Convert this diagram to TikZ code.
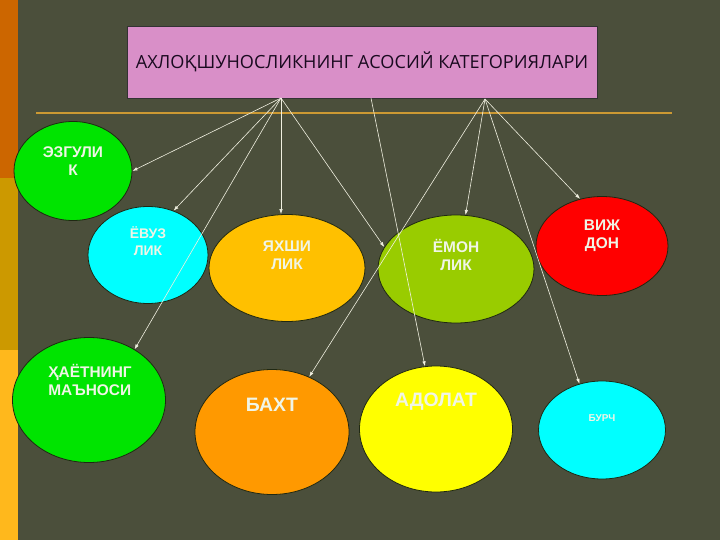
\documentclass[tikz,border=0pt]{standalone}
\usepackage{fontspec}
\setmainfont{Liberation Sans}
\newfontfamily\ttlfont{Open Sans}
\usetikzlibrary{shapes.geometric,arrows.meta}
\definecolor{bgc}{HTML}{4B4F3B}
\definecolor{stra}{HTML}{CC6600}
\definecolor{strb}{HTML}{CC9900}
\definecolor{strc}{HTML}{FFB81C}
\definecolor{rulec}{HTML}{CC9933}
\definecolor{ttlc}{HTML}{D98FC8}
\definecolor{bordc}{HTML}{1F2812}
\definecolor{txtc}{HTML}{F0F5E6}
\definecolor{arrc}{HTML}{F0F0E0}
\definecolor{grnc}{HTML}{00E400}
\definecolor{cync}{HTML}{00FFFF}
\definecolor{gldc}{HTML}{FFC000}
\definecolor{limc}{HTML}{99CC00}
\definecolor{redc}{HTML}{FF0000}
\definecolor{orgc}{HTML}{FF9900}
\definecolor{ylwc}{HTML}{FFFF00}
\tikzset{
    cat/.style={ellipse, draw=bordc, line width=0.8bp, inner sep=0pt},
    txt/.style={text=txtc, font=\bfseries\fontsize{15.5}{18}\selectfont, align=center},
    big/.style={font=\bfseries\fontsize{19.5}{22}\selectfont},
    arr/.style={draw=arrc, line width=0.6bp, -{Latex[length=5bp,width=3.5bp]}}
}
\begin{document}
\begin{tikzpicture}[x=1bp,y=-1bp]
    \useasboundingbox (0,0) rectangle (720,540);
    \fill[bgc] (0,0) rectangle (720,540);
    \fill[stra] (0,0) rectangle (18,178);
    \fill[strb] (0,178) rectangle (18,350);
    \fill[strc] (0,350) rectangle (18,540);
    \draw[rulec, line width=1.5bp] (36,113) -- (672,113);
    \draw (362,62) node[draw=black!80, fill=ttlc, minimum width=470bp, minimum height=72bp](ttl){
        \ttlfont\fontsize{18.2}{21}\selectfont\color[HTML]{1A0A20}АХЛОҚШУНОСЛИКНИНГ АСОСИЙ КАТЕГОРИЯЛАРИ
    };
    \coordinate (s1) at (281,98);
    \coordinate (s2) at (485,99);
    \coordinate (s3) at (371,98);
    % upper row
    \draw (73,171) node[cat, fill=grnc, minimum width=118bp, minimum height=99bp,
        label={[txt,yshift=10bp]center:{ЭЗГУЛИ\\К}}](ezg){};
    \draw (148,255) node[cat, fill=cync, minimum width=120bp, minimum height=97bp,
        label={[txt,yshift=14bp,font=\bfseries\fontsize{14}{17}\selectfont]center:{ЁВУЗ\\ЛИК}}](evz){};
    \draw (287,268) node[cat, fill=gldc, minimum width=156bp, minimum height=107bp,
        label={[txt,yshift=13bp]center:{ЯХШИ\\ЛИК}}](yax){};
    \draw (456,269) node[cat, fill=limc, minimum width=156bp, minimum height=108bp,
        label={[txt,yshift=14bp]center:{ЁМОН\\ЛИК}}](emn){};
    \draw (602,246) node[cat, fill=redc, minimum width=132bp, minimum height=99bp,
        label={[txt,yshift=10bp]center:{ВИЖ\\ДОН}}](vij){};
    % lower row
    \draw (89,400) node[cat, fill=grnc, minimum width=153bp, minimum height=125bp,
        label={[txt,align=left,yshift=20bp,xshift=1bp]center:{ҲАЁТНИНГ\\МАЪНОСИ}}](hay){};
    \draw (272,432) node[cat, fill=orgc, minimum width=154bp, minimum height=125bp,
        label={[txt,big,yshift=27bp]center:БАХТ}](bax){};
    \draw (436,429) node[cat, fill=ylwc, minimum width=153bp, minimum height=126bp,
        label={[txt,big,yshift=27bp]center:АДОЛАТ}](ado){};
    \draw (602,430) node[cat, fill=cync, minimum width=127bp, minimum height=98bp,
        label={[txt,yshift=12bp,font=\bfseries\fontsize{10}{12}\selectfont]center:БУРЧ}](bur){};
    % arrows
    \draw[arr] (s1) -- (ezg.east);
    \draw[arr] (s1) -- (evz.60);
    \draw[arr] (s1) -- (s1 |- yax.north);
    \draw[arr] (s1) -- (emn.163);
    \draw[arr] (s1) -- (hay.48);
    \draw[arr] (s3) -- (ado.100);
    \draw[arr] (s2) -- (emn.80);
    \draw[arr] (s2) -- (vij.115);
    \draw[arr] (s2) -- (bax.56);
    \draw[arr] (s2) -- (bur.116);
\end{tikzpicture}
\end{document}
